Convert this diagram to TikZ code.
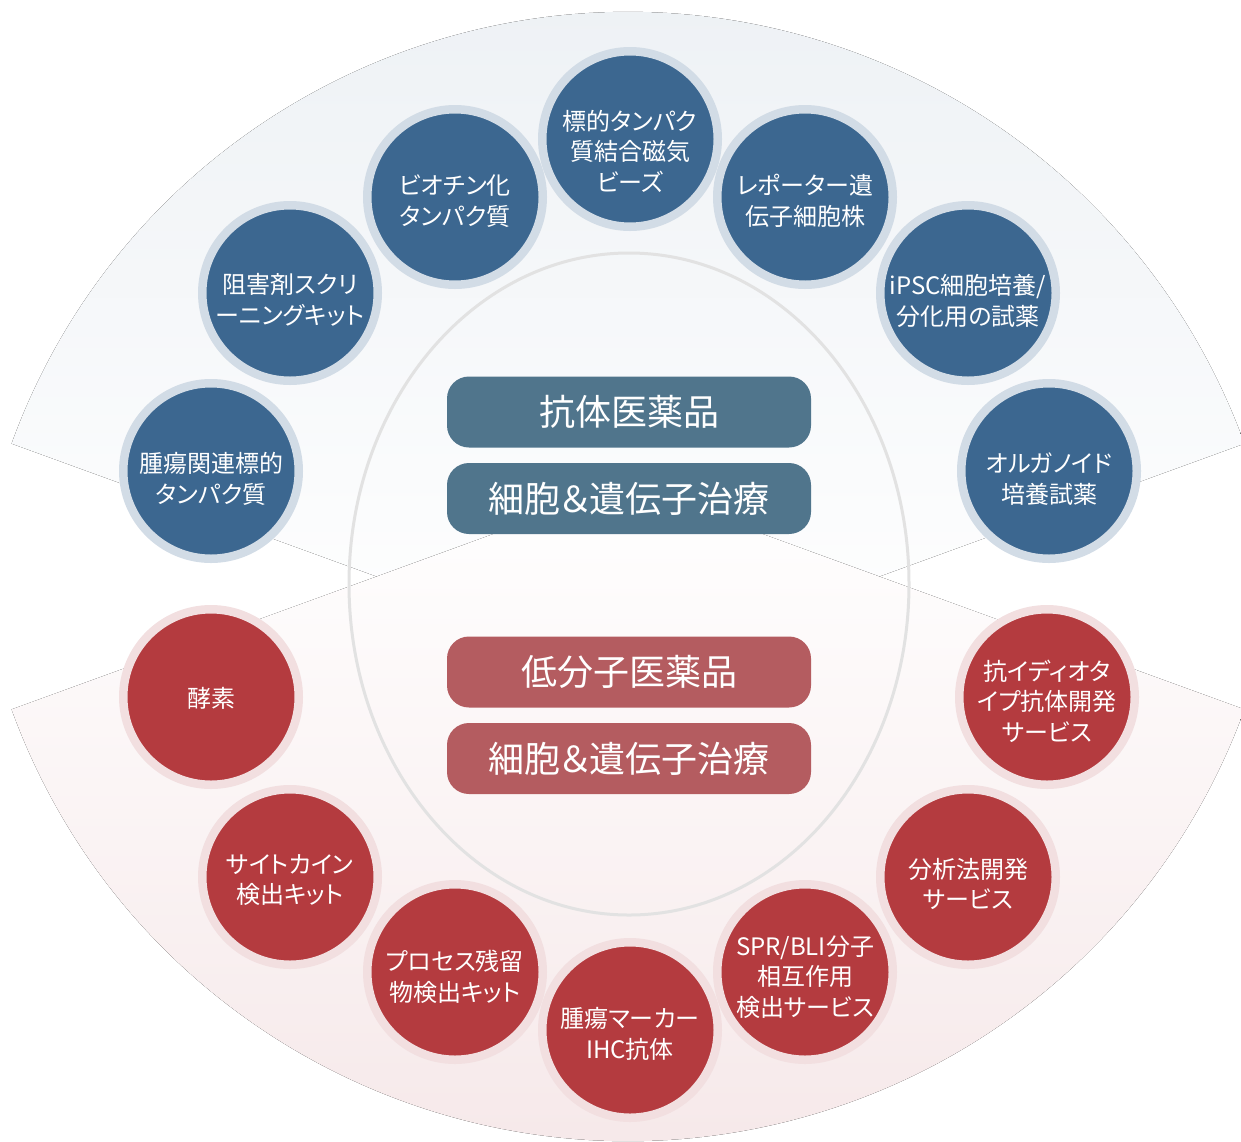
\documentclass[tikz,border=0pt]{standalone}
\usepackage{fontspec}
\setmainfont{Noto Sans CJK JP}[RawFeature=+palt]
\definecolor{bluefill}{HTML}{3C6790}
\definecolor{bluering}{HTML}{D2DCE6}
\definecolor{redfill}{HTML}{B43B3F}
\definecolor{redring}{HTML}{F2DFE0}
\definecolor{blueboxc}{HTML}{50758C}
\definecolor{redboxc}{HTML}{B45C60}
\definecolor{ovalc}{HTML}{E2E2E2}
\definecolor{bgtop}{HTML}{ECF0F4}
\definecolor{bgbot}{HTML}{F5E6E7}
\tikzset{
  ringcirc/.style={circle, inner sep=0pt, minimum size=175.5pt, line width=8.5pt},
  bluecirc/.style={ringcirc, fill=bluefill, draw=bluering},
  redcirc/.style={ringcirc, fill=redfill, draw=redring},
  ctext/.style={text=white, align=center, inner sep=0pt, font=\fontsize{24}{30.5}\selectfont},
  boxbase/.style={rounded corners=22pt, minimum width=364pt, minimum height=71pt, inner sep=0pt, text=white, font=\fontsize{36}{40}\selectfont},
  bluebox/.style={boxbase, fill=blueboxc},
  redbox/.style={boxbase, fill=redboxc},
}
\begin{document}
\begin{tikzpicture}[x=1pt,y=-1pt]
\useasboundingbox (0,0) rectangle (1241,1141);
% background sectors
\fill[top color=bgtop, bottom color=white] (628,668) -- ++(200:656) arc[start angle=200, end angle=340, radius=656] -- cycle;
\fill[bottom color=bgbot, top color=white] (628,485) -- ++(160:656) arc[start angle=160, end angle=20, radius=656] -- cycle;
% inner oval
\draw[ovalc, line width=3pt] (629,584) ellipse[x radius=280, y radius=331];
% center boxes
\node[bluebox] (bx1) at (629,412) {抗体医薬品};
\node[bluebox] (bx2) at (629,498.5) {細胞＆遺伝子治療};
\node[redbox] (rx1) at (629,672) {低分子医薬品};
\node[redbox] (rx2) at (629,758.5) {細胞＆遺伝子治療};
% blue circles
\node[bluecirc] (b1) at (630,139) {};
\node[bluecirc] (b2) at (455,197) {};
\node[bluecirc] (b3) at (805,197) {};
\node[bluecirc] (b4) at (290,293) {};
\node[bluecirc] (b5) at (968,293) {};
\node[bluecirc] (b6) at (211,471) {};
\node[bluecirc] (b7) at (1049,471) {};
\node[ctext] (b1t) at ([yshift=-12]b1.center) {標的タンパク\\質結合磁気\\ビーズ};
\node[ctext] (b2t) at ([yshift=-4]b2.center) {ビオチン化\\タンパク質};
\node[ctext] (b3t) at ([yshift=-4]b3.center) {レポーター遺\\伝子細胞株};
\node[ctext] (b4t) at ([yshift=-7]b4.center) {阻害剤スクリ\\ーニングキット};
\node[ctext] (b5t) at ([yshift=-8]b5.center) {iPSC細胞培養/\\分化用の試薬};
\node[ctext] (b6t) at ([yshift=-8]b6.center) {腫瘍関連標的\\タンパク質};
\node[ctext] (b7t) at ([yshift=-8]b7.center) {オルガノイド\\培養試薬};
% red circles
\node[redcirc] (r1) at (211,697) {};
\node[redcirc] (r2) at (1047,697) {};
\node[redcirc] (r3) at (290,877) {};
\node[redcirc] (r4) at (968,877) {};
\node[redcirc] (r5) at (455,972) {};
\node[redcirc] (r6) at (805,972) {};
\node[redcirc] (r7) at (630,1030) {};
\node[ctext] (r1t) at ([yshift=-1]r1.center) {酵素};
\node[ctext] (r2t) at ([yshift=-4]r2.center) {抗イディオタ\\イプ抗体開発\\サービス};
\node[ctext] (r3t) at ([yshift=-3]r3.center) {サイトカイン\\検出キット};
\node[ctext] (r4t) at ([yshift=-7]r4.center) {分析法開発\\サービス};
\node[ctext] (r5t) at ([yshift=-5]r5.center) {プロセス残留\\物検出キット};
\node[ctext] (r6t) at ([yshift=-5]r6.center) {SPR/BLI分子\\相互作用\\検出サービス};
\node[ctext] (r7t) at ([yshift=-4]r7.center) {腫瘍マーカー\\IHC抗体};
\end{tikzpicture}
\end{document}
